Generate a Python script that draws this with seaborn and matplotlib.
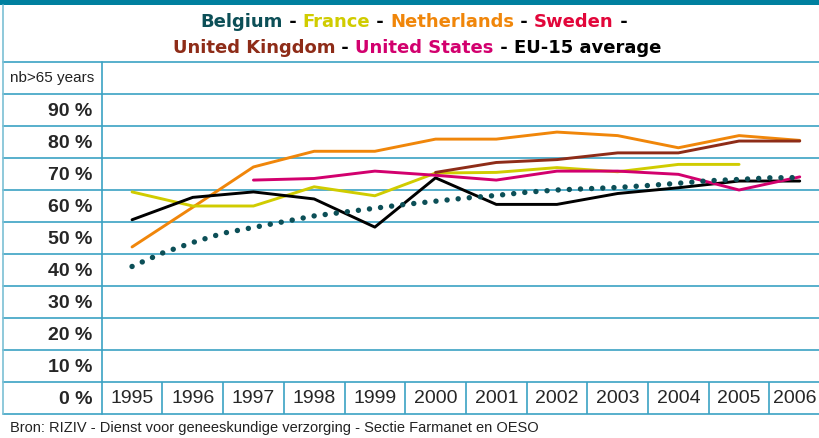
import matplotlib
matplotlib.use("Agg")
import matplotlib.pyplot as plt
import pandas as pd
import seaborn as sns
from matplotlib.lines import Line2D
from matplotlib.patches import Rectangle
from matplotlib.offsetbox import AnchoredOffsetbox, HPacker, TextArea
from matplotlib.transforms import ScaledTranslation

# values (% share)
years = [1995, 1996, 1997, 1998, 1999, 2000, 2001, 2002, 2003, 2004, 2005, 2006]
netherlands = [47.2, 59.6, 72.2, 77.1, 77.1, 80.9, 80.9, 83.1, 82.0, 78.2, 82.0, 80.5]
france = [64.4, 60.0, 60.0, 66.0, 63.2, 70.3, 70.5, 72.0, 70.7, 73.0, 73.0, None]
eu15 = [55.7, 62.7, 64.4, 62.2, 53.4, 68.8, 60.5, 60.5, 63.9, 65.7, 67.8, 67.8]
united_states = [None, None, 68.1, 68.6, 70.9, 69.6, 68.1, 70.9, 70.9, 69.9, 65.0, 69.1]
united_kingdom = [None, None, None, None, None, 70.5, 73.6, 74.5, 76.6, 76.6, 80.3, 80.3]

# Belgium is a dense dotted curve, read every half year
belgium_x = [1995, 1995.5, 1996, 1996.5, 1997, 1997.5, 1998, 1998.5, 1999, 1999.5,
             2000, 2000.5, 2001, 2001.5, 2002, 2002.5, 2003, 2003.5, 2004, 2004.5,
             2005, 2005.5, 2006]
belgium = [41.1, 45.3, 48.6, 51.5, 53.3, 55.1, 56.9, 58.1, 59.3, 60.5,
           61.5, 62.5, 63.3, 64.3, 65.0, 65.4, 65.8, 66.4, 67.1, 67.9,
           68.3, 68.8, 68.9]

y_ticks = [0, 10, 20, 30, 40, 50, 60, 70, 80, 90]
y_tick_labels = [f"{v} %" for v in y_ticks]

colors = {
    "Belgium": "#0c4f57",
    "France": "#d0cc00",
    "Netherlands": "#f0860a",
    "Sweden": "#e2063a",
    "United Kingdom": "#8e2c18",
    "United States": "#d2006e",
    "EU-15 average": "#000000",
}
title_lines = [
    ["Belgium", "France", "Netherlands", "Sweden", ""],
    ["United Kingdom", "United States", "EU-15 average"],
]
source = "Bron: RIZIV - Dienst voor geneeskundige verzorging - Sectie Farmanet en OESO"

sns.set_style("white")
plt.rcParams["font.family"] = ["Liberation Sans", "DejaVu Sans"]

W, H = 820, 438
fig = plt.figure(figsize=(W / 100, H / 100), dpi=100)
grid_c = "#3ba2c3"

def fx(px):
    return px / W

def fy(py):
    return 1 - py / H

# plot area: x 101.7 -> 830 px, y 94 -> 414 px
ax = fig.add_axes([fx(101.7), fy(414), fx(728.4), (414 - 94) / H])
ax.set_xlim(1994.5, 2006.5)
ax.set_ylim(-5, 95)
for s in ax.spines.values():
    s.set_visible(False)

long = []
for name, vals in [("Netherlands", netherlands), ("France", france),
                   ("EU-15 average", eu15), ("United States", united_states),
                   ("United Kingdom", united_kingdom)]:
    for yr, v in zip(years, vals):
        if v is not None:
            long.append({"year": yr, "value": v, "series": name})
df = pd.DataFrame(long)

sns.lineplot(data=df, x="year", y="value", hue="series", palette=colors,
             linewidth=2.1, errorbar=None, legend=False, ax=ax)
sns.lineplot(x=belgium_x, y=belgium, color=colors["Belgium"], errorbar=None, ax=ax)
dots = ax.lines[-1]
dots.set_linewidth(3.9)
dots.set_linestyle((0, (0.01, 2.05)))
dots.set_dash_capstyle("round")

# table-like rules
left_frac = (3.3 - 101.7) / 728.4
for b in [-5, 5, 15, 25, 35, 45, 55, 65, 75, 85, 95]:
    ax.axhline(b, xmin=left_frac, xmax=1, color=grid_c, lw=1.2, clip_on=False, zorder=0)
ax.axvline(1994.5, ymin=0, ymax=(414 - 61.5) / 320, color=grid_c, lw=1.2, clip_on=False)
ax.vlines([y + 0.5 for y in years[:-1]], -5, 5, color=grid_c, lw=1.2)

ax.set_xticks(years, labels=[str(y) for y in years], va="center", fontsize=14)
ax.set_yticks(y_ticks, labels=y_tick_labels, fontweight="bold", fontsize=14)
ax.tick_params(axis="x", length=0, pad=-11.2)
ax.tick_params(axis="y", length=0, pad=6.5)
ax.set_xlabel("")
ax.set_ylabel("")
# last year label sits a little left so it fits in the narrow last cell
last = ax.get_xticklabels()[-1]
last.set_transform(last.get_transform() + ScaledTranslation(-0.05, 0, fig.dpi_scale_trans))

fig.add_artist(Rectangle((0, fy(5)), 1, 5 / H, transform=fig.transFigure,
                         color="#00809f", lw=0))
fig.add_artist(Line2D([fx(3.3), 1], [fy(61.5), fy(61.5)], transform=fig.transFigure,
                      color=grid_c, lw=1.2))
fig.add_artist(Line2D([fx(3.3), fx(3.3)], [fy(5), fy(414)], transform=fig.transFigure,
                      color="#7cc0d4", lw=1.2))

fig.text(fx(10), fy(78), "nb>65 years", fontsize=11, va="center", ha="left",
         color="#222222")
fig.text(fx(10), fy(428), source, fontsize=10.5, va="center", ha="left", color="#222222")

# multi-coloured title
tprops = dict(fontsize=13, fontweight="bold", family=["DejaVu Sans"])
for row, names in enumerate(title_lines):
    parts = []
    for i, name in enumerate(names):
        if name:
            parts.append(TextArea(name, textprops=dict(color=colors[name], **tprops)))
        if i < len(names) - 1:
            parts.append(TextArea(" - ", textprops=dict(color="black", **tprops)))
    box = AnchoredOffsetbox(loc="center", child=HPacker(children=parts, sep=0, pad=0),
                            bbox_to_anchor=(fx(417), fy(22 + 26 * row)),
                            bbox_transform=fig.transFigure, frameon=False, pad=0,
                            borderpad=0)
    ax.add_artist(box)

fig.savefig("out.png", dpi=100)
